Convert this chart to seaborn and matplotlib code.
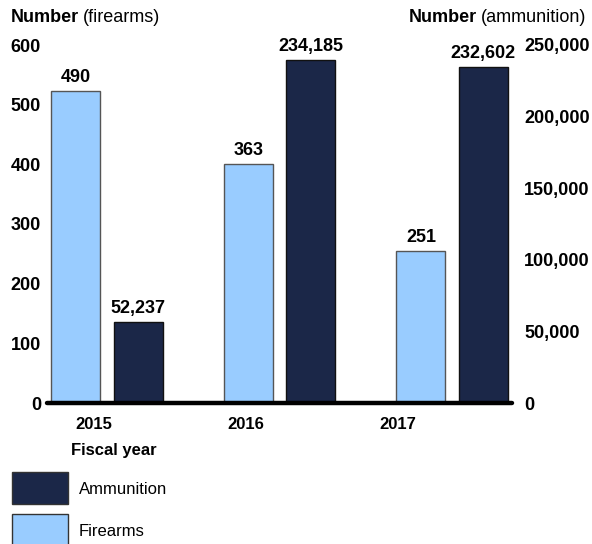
import matplotlib
matplotlib.use("Agg")
import matplotlib.pyplot as plt
import seaborn as sns
import pandas as pd
from matplotlib.patches import Rectangle

# ---- data (bar heights as drawn; labels as printed) ----
years = ["2015", "2016", "2017"]
firearms = [523, 400, 255]
ammunition = [56250, 239600, 234700]
firearms_labels = ["490", "363", "251"]
ammunition_labels = ["52,237", "234,185", "232,602"]
left_ticks = [0, 100, 200, 300, 400, 500, 600]
right_ticks = [0, 50000, 100000, 150000, 200000, 250000]
legend_labels = ["Ammunition", "Firearms"]

FIRE_C = "#99ccff"
AMMO_C = "#1b2748"
FONT = "Liberation Sans"
BIG = 13
SMALL = 12

sns.set_theme(style="white")
plt.rcParams["font.family"] = [FONT, "DejaVu Sans"]
plt.rcParams["text.color"] = "black"
plt.rcParams["xtick.color"] = "black"
plt.rcParams["ytick.color"] = "black"

W, H = 592, 544
fig = plt.figure(figsize=(W / 100, H / 100), dpi=100)
ax = fig.add_axes([47 / W, 141 / H, 465 / W, 358 / H])
ax2 = ax.twinx()

df_f = pd.DataFrame({"year": years, "value": firearms})
df_a = pd.DataFrame({"year": years, "value": ammunition})

bw = 0.284
off = 0.18
sns.barplot(data=df_f, x="year", y="value", ax=ax, color=FIRE_C, saturation=1,
            width=bw, edgecolor="#555555", linewidth=1)
sns.barplot(data=df_a, x="year", y="value", ax=ax2, color=AMMO_C, saturation=1,
            width=bw, edgecolor="#111111", linewidth=1)
for p in ax.patches:
    p.set_x(p.get_x() - off)
for p in ax2.patches:
    p.set_x(p.get_x() + off)

for a in (ax, ax2):
    a.set_xlim(-0.348, 2.348)
    a.set_xlabel("")
    a.set_ylabel("")
    for s in a.spines.values():
        s.set_visible(False)

ax.set_ylim(0, 600)
ax2.set_ylim(0, 250000)

# bar value labels
for p, lab in zip(ax.patches, firearms_labels):
    ax.annotate(lab, (p.get_x() + p.get_width() / 2, p.get_height()),
                xytext=(0, 5), textcoords="offset pixels", ha="center", va="bottom",
                fontsize=BIG, fontweight="bold", color="black")
for p, lab in zip(ax2.patches, ammunition_labels):
    ax2.annotate(lab, (p.get_x() + p.get_width() / 2, p.get_height()),
                 xytext=(0, 5), textcoords="offset pixels", ha="center", va="bottom",
                 fontsize=BIG, fontweight="bold", color="black")

# ticks
ax.set_yticks(left_ticks, labels=[str(v) for v in left_ticks])
ax2.set_yticks(right_ticks, labels=[f"{v:,}" for v in right_ticks])
ax.tick_params(axis="y", length=0, pad=4.3, labelsize=BIG)
ax2.tick_params(axis="y", length=0, pad=8.6, labelsize=BIG)
for t in ax.get_yticklabels() + ax2.get_yticklabels():
    t.set_fontweight("bold")
ax2.set_xticks([])
ax.set_xticks([-0.075, 0.803, 1.687], labels=years)
ax.tick_params(axis="x", length=0, pad=10, labelsize=SMALL)
for t in ax.get_xticklabels():
    t.set_fontweight("bold")

# thick baseline
ax2.axhline(0, color="black", linewidth=3.2, clip_on=False, zorder=5)

# axis headings
fig.canvas.draw()
r = fig.canvas.get_renderer()
hy = 1 - 18 / H
t1 = fig.text(11 / W, hy, "Number", fontweight="bold", ha="left", va="center", fontsize=BIG)
bb = t1.get_window_extent(r)
fig.text((bb.x1 + 4) / W, hy, "(firearms)", ha="left", va="center", fontsize=BIG)
t3 = fig.text(586 / W, hy, "(ammunition)", ha="right", va="center", fontsize=BIG)
bb3 = t3.get_window_extent(r)
fig.text((bb3.x0 - 4) / W, hy, "Number", fontweight="bold", ha="right", va="center", fontsize=BIG)

fig.text(71 / W, 1 - 450 / H, "Fiscal year", fontweight="bold", ha="left", va="center", fontsize=SMALL)

# legend (manual boxes)
leg_colors = [AMMO_C, FIRE_C]
leg_tops = [472, 514]
for col, top, lab in zip(leg_colors, leg_tops, legend_labels):
    fig.add_artist(Rectangle((12 / W, 1 - (top + 32) / H), 56 / W, 32 / H,
                             transform=fig.transFigure, facecolor=col,
                             edgecolor="#333333", linewidth=1))
    fig.text(79 / W, 1 - (top + 17) / H, lab, ha="left", va="center", fontsize=SMALL)

fig.savefig("out.png", dpi=100)
